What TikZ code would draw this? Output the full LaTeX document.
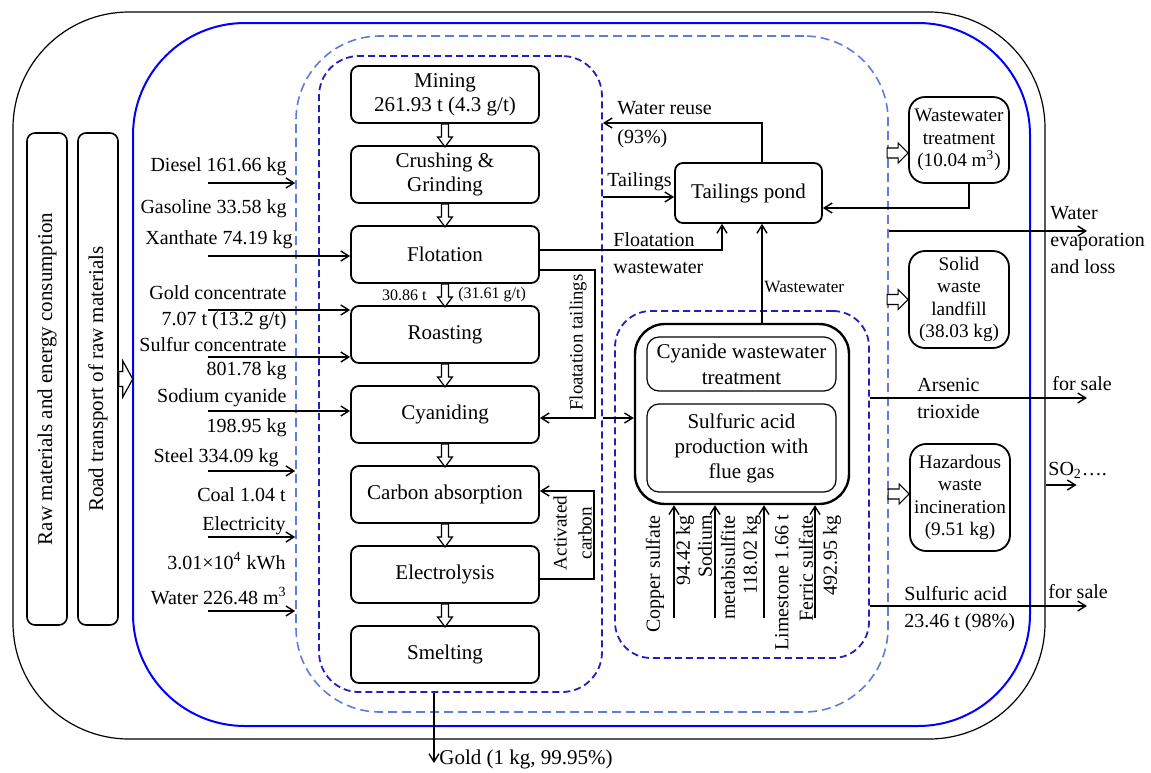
\documentclass[tikz,border=0pt]{standalone}
\usepackage{fontspec}
\setmainfont{Liberation Serif}
\usetikzlibrary{arrows.meta, positioning}

\definecolor{zoneblue}{RGB}{35,30,190}
\definecolor{plantblue}{RGB}{95,125,215}

\tikzset{
  procbox/.style={draw, line width=0.9pt, rounded corners=4pt, minimum width=94pt,
    minimum height=28.5pt, align=center, inner sep=1pt, font=\fontsize{10.5}{12}\selectfont},
  innerbox/.style={draw, line width=0.6pt, rounded corners=6pt, minimum width=94.5pt,
    align=center, inner sep=1pt, font=\fontsize{10.5}{12.5}\selectfont},
  sidebox/.style={draw, line width=0.9pt, rounded corners=8pt, minimum width=50pt,
    align=center, inner sep=1pt, font=\fontsize{9.6}{11.25}\selectfont},
  lbl/.style={inner sep=1pt, font=\fontsize{10}{13.5}\selectfont},
  smalllbl/.style={inner sep=1pt, font=\fontsize{8}{9}\selectfont},
  arr/.style={line width=0.7pt, -{Straight Barb[length=4pt,width=5pt]}},
  zonebox/.style={draw, inner sep=0pt},
  pics/hollow/.style n args={4}{code={
    \draw[fill=white, line width=0.6pt] (0,-#3) -- (#1-#2,-#3) -- (#1-#2,-#4)
      -- (#1,0) -- (#1-#2,#4) -- (#1-#2,#3) -- (0,#3) -- cycle;}}
}

\begin{document}
\begin{tikzpicture}[x=0.5pt, y=-0.5pt]
  \useasboundingbox (0,0) rectangle (1151,772);
  % ---------- BOUNDARIES ----------
  \node[zonebox, line width=0.6pt, rounded corners=58pt, minimum width=516pt, minimum height=363.5pt] (outer) at (529,375.5) {};
  \node[zonebox, draw=blue, line width=1pt, rounded corners=56pt, minimum width=448.5pt, minimum height=351.5pt] (site) at (581.5,374.5) {};
  \node[zonebox, draw=plantblue, line width=0.8pt, dash pattern=on 4.5pt off 2.5pt, rounded corners=42pt, minimum width=296pt, minimum height=338pt] (plant) at (592,374) {};
  \node[zonebox, draw=zoneblue, line width=0.9pt, dash pattern=on 3.5pt off 2pt, rounded corners=20pt, minimum width=141.5pt, minimum height=318pt] (colzone) at (460.5,374) {};
  \node[zonebox, draw=zoneblue, line width=0.9pt, dash pattern=on 3.5pt off 2pt, rounded corners=18pt, minimum width=127pt, minimum height=173.5pt] (czone) at (742,484.5) {};

  % ---------- LEFT ----------
  \node[draw, rotate=90, line width=0.8pt, rounded corners=4pt, minimum width=246pt, minimum height=20pt, font=\fontsize{10.5}{12}\selectfont] (raw) at (47,379) {Raw materials and energy consumption};
  \node[draw, rotate=90, line width=0.8pt, rounded corners=4pt, minimum width=246pt, minimum height=20pt, font=\fontsize{10.5}{12}\selectfont] (road) at (98,379) {Road transport of raw materials};
  \pic at (road.south) {hollow={14}{10}{7.5}{18}};

  % ---------- PROCESS CHAIN ----------
  \node[procbox] (mine) at (445,94.5) {Mining\\261.93 t (4.3 g/t)};
  \node[procbox, below=10.6pt of mine] (crush) {Crushing \&\\Grinding};
  \node[procbox, below=10.6pt of crush] (flot) {Flotation};
  \node[procbox, below=10.6pt of flot] (roast) {Roasting};
  \node[procbox, below=10.6pt of roast] (cyan) {Cyaniding};
  \node[procbox, below=10.6pt of cyan] (carb) {Carbon absorption};
  \node[procbox, below=10.6pt of carb] (elec) {Electrolysis};
  \node[procbox, below=10.6pt of elec] (smelt) {Smelting};
  \foreach \a/\b in {mine/crush, crush/flot, flot/roast, roast/cyan, cyan/carb, carb/elec, elec/smelt}
    \pic[rotate=-90] at (\a.south) {hollow={23}{10}{3.5}{7.5}};
  \node[smalllbl, anchor=east] (conct) at (429,295) {30.86 t};
  \node[smalllbl, anchor=west] (concg) at (456,295) {(31.61 g/t)};

  % ---------- INPUTS ----------
  \node[lbl, anchor=east] (diesel) at (289,167) {Diesel 161.66 kg};
  \node[lbl, anchor=east] (gasol) at (289,209) {Gasoline 33.58 kg};
  \node[lbl, anchor=east] (xanth) at (295,240) {Xanthate 74.19 kg};
  \node[lbl, anchor=east, align=right] (goldc) at (289,308) {Gold concentrate\\[-0.5pt]7.07 t (13.2 g/t)};
  \node[lbl, anchor=east, align=right] (sulfc) at (289,359) {Sulfur concentrate\\[-1.5pt]801.78 kg};
  \node[lbl, anchor=east, align=right] (nacn) at (289,413) {Sodium cyanide\\[1.5pt]198.95 kg};
  \node[lbl, anchor=east] (steel) at (281,458) {Steel 334.09 kg};
  \node[lbl, anchor=east] (coal) at (288,495) {Coal 1.04 t};
  \node[lbl, anchor=east] (elecy) at (288,526) {Electricity};
  \node[lbl, anchor=east] (kwh) at (288,561) {3.01×10\textsuperscript{4} kWh};
  \node[lbl, anchor=east] (water) at (289,596) {Water 226.48 m\textsuperscript{3}};
  \foreach \n/\yy in {D/183, X/256, G/310, S/357, N/411, T/471, E/537, W/611}
    \coordinate (in\n) at (208,\yy);
  \foreach \n/\t in {D/plant, T/plant, E/plant, W/plant, X/flot, G/roast, S/roast, N/cyan}
    \draw[arr] (in\n) -- (in\n -| \t.west);

  % ---------- TAILINGS ----------
  \node[procbox, minimum width=73.5pt, minimum height=30pt] (pond) at (748.5,193) {Tailings pond};
  \coordinate (wx) at (762,0);
  \draw[arr] (pond.north -| wx) |- (colzone.east |- 0,123);
  \node[lbl, anchor=west, align=left] (reuse) at (615,124.5) {Water reuse\\[1pt](93\%)};
  \draw[arr] (colzone.east |- 0,197) -- (pond.west |- 0,197);
  \node[lbl, anchor=west] (tail) at (605,182) {Tailings};
  \draw[arr] (flot.east |- 0,250) -| (pond.south -| 722,0);
  \node[lbl, anchor=west, align=left] (fww) at (611,253.5) {Floatation\\wastewater};
  \draw[arr] (flot.east |- 0,270) -| (595,418) -- (cyan.east |- 0,418);
  \node[lbl, rotate=90, font=\fontsize{9.4}{11}\selectfont] (ftail) at (578,342.5) {Floatation tailings};
  \draw[arr] (elec.east |- 0,579) -| (594,491) -- (carb.east |- 0,491);
  \node[lbl, rotate=90, align=center, font=\fontsize{9.6}{12.5}\selectfont] (actc) at (572.5,533) {Activated\\carbon};

  % ---------- CYANIDE / ACID ----------
  \node[draw, line width=1.2pt, rounded corners=15pt, minimum width=107pt, minimum height=90pt] (cbig) at (742,414) {};
  \node[innerbox, minimum height=27pt, font=\fontsize{10.5}{13}\selectfont] (cwt) at (741.5,364) {Cyanide wastewater\\treatment};
  \node[innerbox, minimum height=44pt] (sap) at (741.5,448) {Sulfuric acid\\production with\\flue gas};
  \draw[arr] (cbig.north -| wx) -- (pond.south -| wx);
  \node[smalllbl, anchor=west, font=\fontsize{8.6}{10}\selectfont] (ww) at (762,287) {Wastewater};
  \draw[arr] (colzone.east |- 0,418) -- (cbig.west |- 0,418);
  \foreach \xx in {674,715,764,815}
    \draw[arr] (cbig.south -| \xx,0) ++(0,113) -- (cbig.south -| \xx,0);
  \foreach \xx/\txt [count=\i] in {655/Copper sulfate, 685/94.42 kg, 705/Sodium, 728/metabisulfite,
      752/118.02 kg, 782/Limestone 1.66 t, 806/Ferric sulfate, 832/492.95 kg}
    \node[lbl, rotate=90, anchor=east] (bin\i) at (\xx,513) {\txt};

  % ---------- OUTPUTS ----------
  \node[sidebox, minimum height=43pt] (wwt) at (959,140) {Wastewater\\treatment\\(10.04 m\textsuperscript{3})};
  \node[sidebox, minimum height=48.5pt] (swl) at (959,299.5) {Solid\\waste\\landfill\\(38.03 kg)};
  \node[sidebox, minimum height=53.5pt] (hwi) at (960,497.5) {Hazardous\\waste\\incineration\\(9.51 kg)};
  \pic at ([xshift=-10.5pt,yshift=-6.5pt]wwt.west) {hollow={21}{10}{5}{10}};
  \pic at ([xshift=-10.5pt]swl.west) {hollow={21}{10}{5}{10}};
  \pic at ([xshift=-10.5pt,yshift=1.75pt]hwi.west) {hollow={21}{10}{5}{10}};
  \draw[arr] ([xshift=5pt]wwt.south) |- (pond.east |- 0,208);
  \coordinate (sale) at (1087,0);
  \draw[arr] (plant.east |- 0,231) -- (sale |- 0,231);
  \node[lbl, anchor=west, align=left] (evap) at (1048,240.5) {Water\\evaporation\\and loss};
  \draw[arr] (czone.east |- 0,398) -- (sale |- 0,398);
  \node[lbl, anchor=west, align=left] (arsen) at (915,398.5) {Arsenic\\trioxide};
  \node[lbl, anchor=west] (sale1) at (1050,384) {for sale};
  \draw[arr] (outer.east |- 0,485) -- ++(31,0);
  \node[lbl, anchor=west] (sotwo) at (1046,470) {SO\textsubscript{2}\dots.};
  \draw[arr] (czone.east |- 0,606) -- (sale |- 0,606);
  \node[lbl, anchor=west, align=left] (acid) at (902,609.5) {Sulfuric acid\\23.46 t (98\%)};
  \node[lbl, anchor=west] (sale2) at (1046,592) {for sale};
  \coordinate (goldout) at (434,763);
  \draw[arr] (colzone.south -| goldout) -- (goldout);
  \node[lbl, anchor=west, font=\fontsize{10.5}{12}\selectfont] (gold) at (437,759) {Gold (1 kg, 99.95\%)};
\end{tikzpicture}
\end{document}
